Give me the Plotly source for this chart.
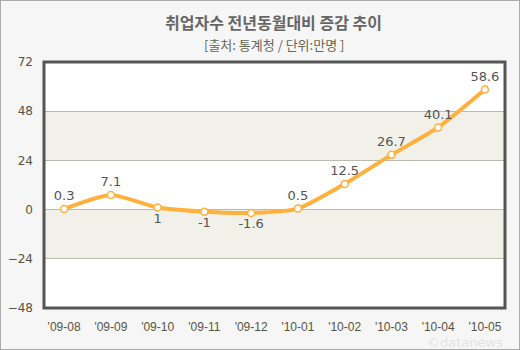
import plotly.graph_objects as go

months = ["'09-08", "'09-09", "'09-10", "'09-11", "'09-12", "'10-01", "'10-02", "'10-03", "'10-04", "'10-05"]
values = [0.3, 7.1, 1, -1, -1.6, 0.5, 12.5, 26.7, 40.1, 58.6]
labels = ["0.3", "7.1", "1", "-1", "-1.6", "0.5", "12.5", "26.7", "40.1", "58.6"]
label_pos = ["top center", "top center", "bottom center", "bottom center", "bottom center",
             "top center", "top center", "top center", "top center", "top center"]
y_ticks = [-48, -24, 0, 24, 48, 72]

fig = go.Figure()
fig.add_trace(go.Scatter(
    x=list(range(len(months))), y=values, mode="lines+markers+text",
    text=labels, textposition=label_pos,
    textfont=dict(family="DejaVu Sans", size=13, color="#555555"),
    line=dict(color="#FFB13B", width=4, shape="spline", smoothing=0.6),
    marker=dict(size=7, color="white", line=dict(color="#FFB13B", width=1.5)),
    cliponaxis=False, hoverinfo="skip"))

shapes = []
for lo, hi in [(24, 48), (-24, 0)]:
    shapes.append(dict(type="rect", xref="paper", yref="y", x0=0, x1=1, y0=lo, y1=hi,
                       fillcolor="#F1F1EA", line=dict(width=0), layer="below"))
shapes.append(dict(type="rect", xref="paper", yref="paper", x0=0, x1=1, y0=0, y1=1,
                   line=dict(color="#555555", width=3), layer="above"))

fig.update_layout(
    width=520, height=350,
    margin=dict(l=44, r=15, t=62, b=42, autoexpand=False),
    paper_bgcolor="#F6F6F6", plot_bgcolor="white",
    showlegend=False,
    shapes=shapes,
    xaxis=dict(range=[-0.43, 9.43], tickvals=list(range(len(months))), ticktext=months,
               showgrid=False, zeroline=False, ticks="", showline=False, ticklabelstandoff=10,
               automargin=False,
               tickfont=dict(family="Liberation Sans", size=12, color="#555544")),
    yaxis=dict(range=[-48, 72], tickvals=y_ticks, showgrid=True, gridcolor="#BBBBB0",
               gridwidth=1, zeroline=False, ticks="", showline=False, ticklabelstandoff=10,
               automargin=False,
               tickfont=dict(family="DejaVu Sans", size=12, color="#555544")),
    annotations=[
        dict(text="<b>취업자수 전년동월대비 증감 추이</b>", xref="paper", yref="paper",
             x=(273 - 44) / 461, y=1, yshift=40, yanchor="middle", showarrow=False,
             font=dict(family="Noto Sans CJK KR", size=16, color="#666666")),
        dict(text="[출처: 통계청 / 단위:만명 ]", xref="paper", yref="paper",
             x=(274 - 44) / 461, y=1, yshift=18, yanchor="middle", showarrow=False,
             font=dict(family="Noto Sans CJK KR", size=13, color="#666655")),
        dict(text="©datanews", xref="paper", yref="paper", x=1, y=0, yshift=-34,
             xanchor="right", yanchor="middle", showarrow=False,
             font=dict(family="DejaVu Sans", size=13, color="#E4E4E4")),
    ],
)
fig.add_shape(type="rect", xref="paper", yref="paper", x0=-44/461, x1=1+15/461,
              y0=-42/246, y1=1+62/246, line=dict(color="#AAAAAA", width=2))
fig.write_html("out.html")
